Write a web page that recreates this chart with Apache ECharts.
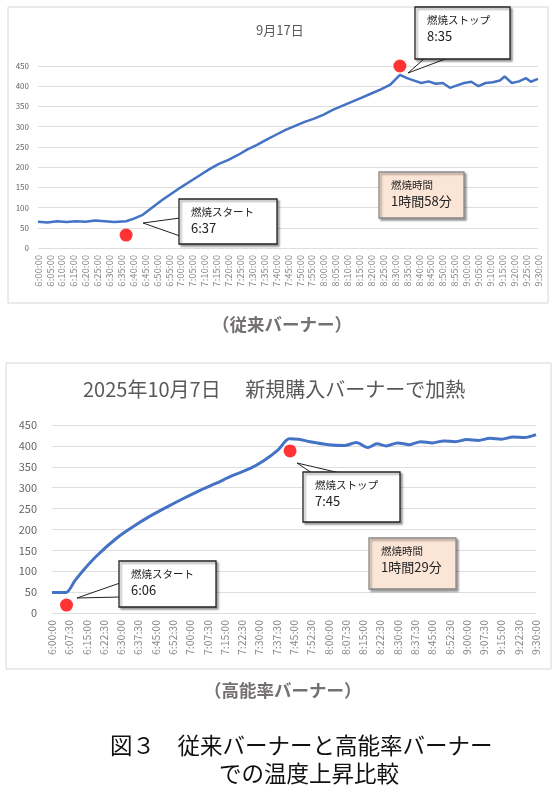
<!DOCTYPE html>
<html>
<head>
<meta charset="utf-8">
<script src="https://cdn.jsdelivr.net/npm/echarts@6/dist/echarts.min.js"></script>
<style>
  html, body { margin: 0; padding: 0; background: #fff; }
  #chart { width: 559px; height: 787px; }
</style>
</head>
<body>
<div id="chart"></div>
<script>
// minutes after 6:00 and temperature, old burner (9/17)
const oldMinutes = [0, 4, 8, 12, 16, 20, 24, 28, 32, 37, 40, 44, 48, 52, 56, 60, 64, 68, 72, 76, 80, 84, 88, 92, 96, 100, 104, 108, 112, 116, 120, 124, 128, 132, 136, 140, 144, 148, 152, 155, 158, 161, 164, 167, 170, 173, 176, 179, 182, 185, 188, 191, 194, 196, 199, 202, 205, 207, 210];
const oldTemps = [65, 63, 66, 64, 66, 65, 68, 66, 64, 66, 72, 82, 100, 118, 134, 150, 165, 180, 195, 208, 218, 230, 244, 255, 268, 280, 292, 302, 312, 320, 330, 342, 352, 362, 372, 382, 392, 404, 428, 420, 414, 408, 412, 406, 408, 396, 402, 408, 411, 400, 408, 410, 414, 424, 408, 412, 420, 411, 418];

// new burner (2025/10/7)
const newMinutes = [0, 6, 10, 14, 20, 28, 35, 42, 50, 57, 64, 71, 78, 86, 92, 98, 103, 107, 112, 120, 127, 132, 137, 141, 145, 150, 155, 160, 165, 170, 175, 180, 185, 190, 195, 200, 205, 210];
const newTemps = [49, 49, 78, 105, 140, 179, 206, 230, 254, 274, 293, 310, 328, 346, 365, 390, 417, 416, 410, 403, 401, 408, 396, 405, 400, 407, 403, 410, 407, 412, 410, 415, 413, 418, 416, 421, 420, 427];

const oldDots = [[37, 32], [152, 450]];
const newDots = [[6.3, 19], [103.3, 388]];

const yTicks = [0, 450, 50];

function timeLabel(m) {
  const total = Math.round(m * 60);
  const h = 6 + Math.floor(total / 3600);
  const mm = Math.floor((total % 3600) / 60);
  const ss = total % 60;
  return h + ":" + String(mm).padStart(2, "0") + ":" + String(ss).padStart(2, "0");
}

const myChart = echarts.init(document.getElementById("chart"), null, { renderer: "canvas" });

const FONT = "'Noto Sans CJK JP', 'Noto Sans', sans-serif";
const LINE = "#4472c4";

function xAxis(gridIndex, interval, fontSize) {
  return {
    type: "value", gridIndex, min: 0, max: 210, interval,
    axisLine: { show: false }, axisTick: { show: false }, splitLine: { show: false },
    axisLabel: { rotate: 90, color: "#8a8a8a", fontSize, fontFamily: FONT, formatter: timeLabel, margin: 7 },
  };
}
function yAxis(gridIndex, fontSize, margin) {
  return {
    type: "value", gridIndex, min: yTicks[0], max: yTicks[1], interval: yTicks[2],
    axisLine: { show: false }, axisTick: { show: false },
    splitLine: { lineStyle: { color: "#dedede" } },
    axisLabel: { color: "#666", fontSize, fontFamily: FONT, margin },
  };
}

// callout box with a pointer (base = two points on the box edge)
function callout(x, y, w, h, lines, tip, base, fill) {
  const els = [];
  if (tip) {
    els.push({
      type: "polygon", z: 10,
      shape: { points: [base[0], tip, base[1]] },
      style: { fill: "#fff", stroke: "#222", lineWidth: 1 },
    });
  }
  els.push({
    type: "rect", z: 11,
    shape: { x, y, width: w, height: h },
    style: { fill: fill || "#fff", stroke: fill ? "#888" : "#222", lineWidth: 1.3,
      shadowColor: "rgba(0,0,0,0.35)", shadowOffsetX: 2, shadowOffsetY: 2, shadowBlur: 2 },
  });
  els.push({
    type: "text", z: 12, left: x + 12, top: y + 8,
    style: { text: lines[0], fontSize: 10.5, fontFamily: FONT, fill: "#222" },
  });
  els.push({
    type: "text", z: 12, left: x + 12, top: y + 23,
    style: { text: lines[1], fontSize: 13, fontFamily: FONT, fill: "#222" },
  });
  return els;
}

const option = {
  animation: false,
  backgroundColor: "#fff",
  grid: [
    { left: 38, right: 21, top: 66, height: 182 },
    { left: 52, right: 23, top: 425, height: 188 },
  ],
  xAxis: [xAxis(0, 5, 9.5), xAxis(1, 7.5, 10.5)],
  yAxis: [yAxis(0, 8, 9), yAxis(1, 11, 15)],
  series: [
    { type: "line", xAxisIndex: 0, yAxisIndex: 0, showSymbol: false,
      data: oldMinutes.map((m, i) => [m, oldTemps[i]]),
      lineStyle: { color: LINE, width: 2.5 } },
    { type: "line", xAxisIndex: 1, yAxisIndex: 1, showSymbol: false, smooth: 0.3,
      data: newMinutes.map((m, i) => [m, newTemps[i]]),
      lineStyle: { color: LINE, width: 3 } },
    { type: "scatter", xAxisIndex: 0, yAxisIndex: 0, data: oldDots, symbolSize: 13,
      itemStyle: { color: "#f00" }, z: 5 },
    { type: "scatter", xAxisIndex: 1, yAxisIndex: 1, data: newDots, symbolSize: 13,
      itemStyle: { color: "#f00" }, z: 5 },
  ],
  graphic: [
    { type: "rect", z: -1, shape: { x: 8, y: 7, width: 540, height: 296 },
      style: { fill: "none", stroke: "#d6d6d6", lineWidth: 1 } },
    { type: "rect", z: -1, shape: { x: 6, y: 363, width: 545, height: 306 },
      style: { fill: "none", stroke: "#d6d6d6", lineWidth: 1 } },
    { type: "text", left: 256, top: 24,
      style: { text: "9月17日", fontSize: 13, fontFamily: FONT, fill: "#595959" } },
    { type: "text", left: 83, top: 379,
      style: { text: "2025年10月7日　 新規購入バーナーで加熱", fontSize: 20, fontFamily: FONT, fill: "#595959" } },
    ...callout(179, 199, 98, 45, ["燃焼スタート", "6:37"], [143, 223], [[180, 218], [180, 236]]),
    ...callout(415, 7, 95, 52, ["燃焼ストップ", "8:35"], [408, 73], [[425, 58], [448, 58]]),
    ...callout(379, 172, 85, 46, ["燃焼時間", "1時間58分"], null, null, "#fbe5d6"),
    ...callout(119, 561, 97, 46, ["燃焼スタート", "6:06"], [77, 598], [[120, 583], [120, 597]]),
    ...callout(303, 472, 97, 50, ["燃焼ストップ", "7:45"], [297, 463], [[312, 473], [340, 473]]),
    ...callout(369, 538, 87, 51, ["燃焼時間", "1時間29分"], null, null, "#fbe5d6"),
    { type: "text", left: 212, top: 316,
      style: { text: "（従来バーナー）", fontSize: 17.5, fontWeight: "bold", fontFamily: FONT, fill: "#767171" } },
    { type: "text", left: 204, top: 682,
      style: { text: "（高能率バーナー）", fontSize: 17.5, fontWeight: "bold", fontFamily: FONT, fill: "#767171" } },
    { type: "text", left: 110, top: 734,
      style: { text: "図３　従来バーナーと高能率バーナー", fontSize: 22.5, fontFamily: FONT, fill: "#111" } },
    { type: "text", left: 219, top: 762,
      style: { text: "での温度上昇比較", fontSize: 22.5, fontFamily: FONT, fill: "#111" } },
  ],
};

myChart.setOption(option);
window.addEventListener("resize", () => myChart.resize());
</script>
</body>
</html>
